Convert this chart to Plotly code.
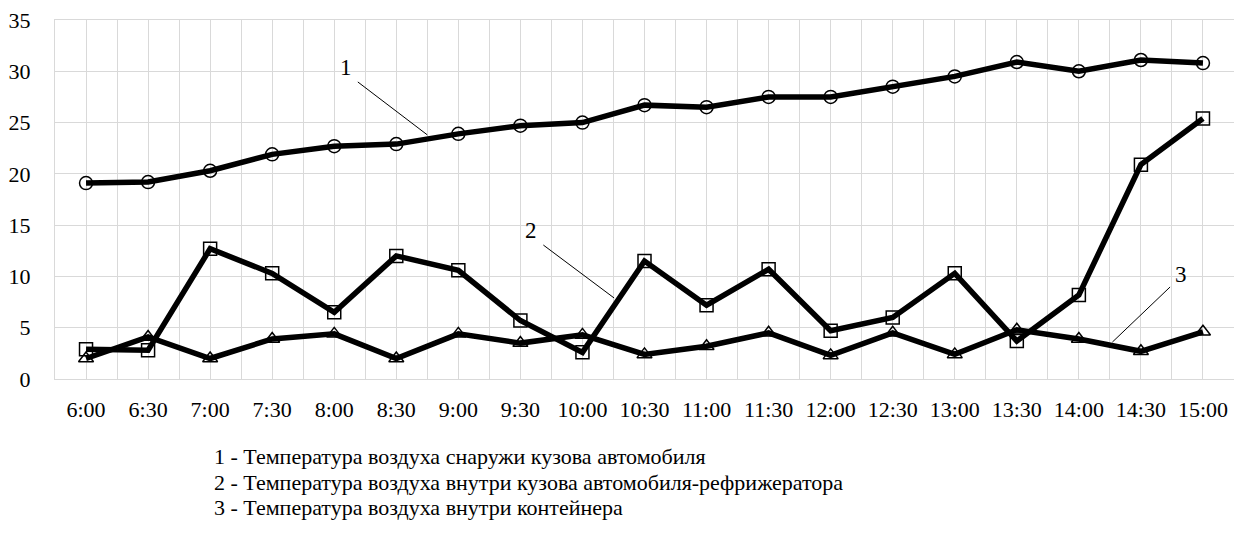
import plotly.graph_objects as go

times = ["6:00", "6:30", "7:00", "7:30", "8:00", "8:30", "9:00", "9:30", "10:00", "10:30",
         "11:00", "11:30", "12:00", "12:30", "13:00", "13:30", "14:00", "14:30", "15:00"]

outside_temp = [19.1, 19.2, 20.3, 21.9, 22.7, 22.9, 23.9, 24.7, 25.0, 26.7,
                26.5, 27.5, 27.5, 28.5, 29.5, 30.9, 30.0, 31.1, 30.8]
reefer_temp = [2.9, 2.8, 12.7, 10.3, 6.5, 12.0, 10.6, 5.7, 2.6, 11.5,
               7.2, 10.7, 4.7, 6.0, 10.3, 3.7, 8.2, 20.9, 25.4]
container_temp = [2.0, 4.1, 2.0, 3.9, 4.4, 2.0, 4.4, 3.5, 4.3, 2.4,
                  3.2, 4.5, 2.3, 4.5, 2.4, 4.8, 3.9, 2.7, 4.6]

legend_lines = [
    "1 - Температура воздуха снаружи кузова автомобиля",
    "2 - Температура воздуха внутри кузова автомобиля-рефрижератора",
    "3 - Температура воздуха внутри контейнера",
]

x_idx = list(range(len(times)))
FONT = "Liberation Serif"
GRID = "#d9d9d9"

fig = go.Figure()
series = [
    (outside_temp, "circle-open", "1"),
    (reefer_temp, "square-open", "2"),
    (container_temp, "triangle-up-open", "3"),
]
for vals, sym, name in series:
    fig.add_trace(go.Scatter(
        x=x_idx, y=vals, mode="lines+markers", name=name,
        line=dict(color="black", width=5.5),
        marker=dict(symbol=sym, size=13, color="black", line=dict(width=1.5, color="black")),
        showlegend=False, cliponaxis=False,
    ))

# callout labels and leader lines (data coords)
callouts = [
    ("1", 4.19, 30.4, (4.38, 28.96), (5.50, 23.8)),
    ("2", 7.17, 14.5, (7.37, 13.06), (8.51, 7.9)),
    ("3", 17.65, 10.2, (17.47, 8.97), (16.54, 3.6)),
]
for txt, tx, ty, p0, p1 in callouts:
    fig.add_annotation(x=tx, y=ty, text=txt, showarrow=False,
                       font=dict(family=FONT, size=23, color="black"))
    fig.add_shape(type="line", x0=p0[0], y0=p0[1], x1=p1[0], y1=p1[1],
                  line=dict(color="black", width=1))

leg_y = [-0.217, -0.287, -0.357]
for line, yy in zip(legend_lines, leg_y):
    fig.add_annotation(x=0.133, y=yy, xref="paper", yref="paper", text=line,
                       showarrow=False, xanchor="left", yanchor="middle",
                       font=dict(family=FONT, size=22, color="black"))

fig.update_layout(
    width=1234, height=538,
    margin=dict(l=55, r=0, t=20, b=159),
    paper_bgcolor="white", plot_bgcolor="white",
    font=dict(family=FONT, size=22, color="black"),
    xaxis=dict(
        range=[-0.5, 18.5], tickmode="array", tickvals=x_idx, ticktext=times,
        showgrid=True, gridcolor=GRID, gridwidth=1,
        minor=dict(tickmode="linear", tick0=-0.5, dtick=1,
                   showgrid=True, gridcolor=GRID, gridwidth=1),
        ticks="outside", ticklen=11, tickcolor="rgba(0,0,0,0)",
        zeroline=False, showline=True, linecolor=GRID, linewidth=1, mirror=True,
        automargin=False,
        tickfont=dict(family=FONT, size=22, color="black"),
    ),
    yaxis=dict(
        range=[0, 35], tickmode="array", tickvals=[0, 5, 10, 15, 20, 25, 30, 35],
        showgrid=True, gridcolor=GRID, gridwidth=1,
        ticks="outside", ticklen=19, tickcolor="rgba(0,0,0,0)",
        zeroline=False, showline=True, linecolor=GRID, linewidth=1, mirror=True,
        automargin=False,
        tickfont=dict(family=FONT, size=22, color="black"),
    ),
)

fig.write_html("out.html", config={"displayModeBar": False},
               post_script="document.body.style.margin='0';document.body.style.overflow='hidden';")
